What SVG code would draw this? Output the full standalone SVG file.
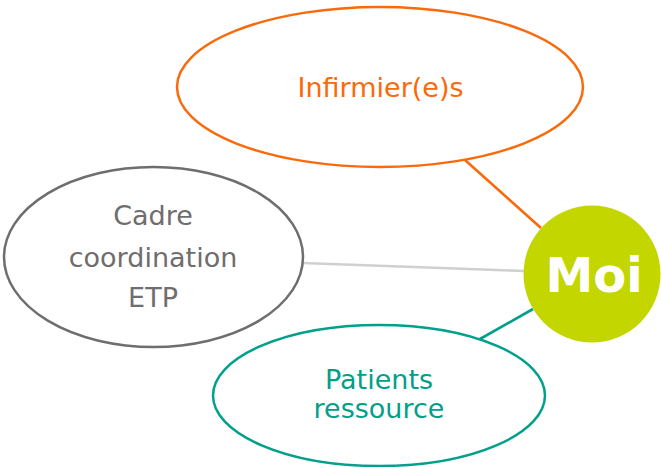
<svg xmlns="http://www.w3.org/2000/svg" width="661" height="467" viewBox="0 0 661 467">
<style>
  text { font-family: "DejaVu Sans", Verdana, sans-serif; font-size: 27px; text-anchor: middle; }
  .node { fill: #FFFFFF; stroke-width: 2.5; }
  .conn { stroke-width: 2.6; fill: none; }
</style>
<rect width="661" height="467" fill="#FFFFFF"/>
<g id="connectors">
  <line class="conn" x1="465" y1="160" x2="541" y2="228" stroke="#F96A0C"/>
  <line class="conn" x1="303" y1="263" x2="524" y2="271" stroke="#D0D0D0"/>
  <line class="conn" x1="480" y1="339" x2="533" y2="309" stroke="#00A08A"/>
</g>
<g id="infirmiers">
  <ellipse class="node" cx="380" cy="87" rx="203" ry="80" stroke="#F96A0C"/>
  <text x="380.5" y="97" fill="#F96A0C">Infirmier(e)s</text>
</g>
<g id="cadre">
  <ellipse class="node" cx="153.5" cy="257" rx="149.5" ry="90" stroke="#6F6D6D"/>
  <text x="153" y="225" fill="#6F6D6D">Cadre</text>
  <text x="153" y="267" fill="#6F6D6D">coordination</text>
  <text x="153" y="307" fill="#6F6D6D">ETP</text>
</g>
<g id="patients">
  <ellipse class="node" cx="379" cy="395.5" rx="166" ry="70.5" stroke="#00A08A"/>
  <text x="379" y="389" fill="#00A08A">Patients</text>
  <text x="379" y="418" fill="#00A08A">ressource</text>
</g>
<g id="moi">
  <circle cx="592" cy="274" r="68.5" fill="#C4D600"/>
  <text x="594" y="292" fill="#FFFFFF" font-weight="bold" style="font-size:48px">Moi</text>
</g>
</svg>
